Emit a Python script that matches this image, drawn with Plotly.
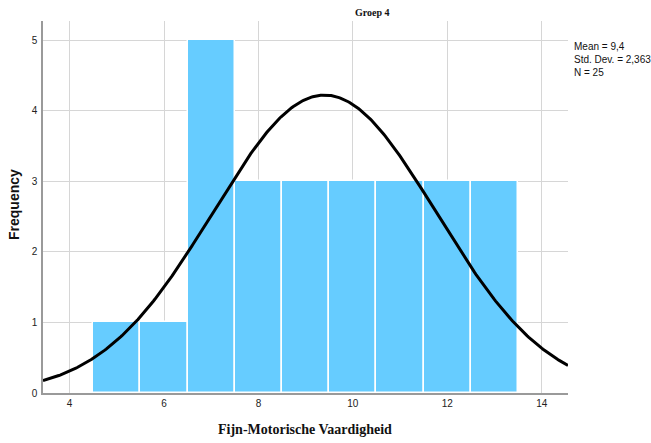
import numpy as np
import plotly.graph_objects as go

# Histogram data: bin centres (width 1) and frequencies
bin_centers = [5, 6, 7, 8, 9, 10, 11, 12, 13]
frequencies = [1, 1, 5, 3, 3, 3, 3, 3, 3]
bin_width = 1.0

# Summary statistics shown beside the plot
mean_val = 9.4
std_dev = 2.363
n_obs = 25

x_ticks = [4, 6, 8, 10, 12, 14]
y_ticks = [0, 1, 2, 3, 4, 5]

x_range = [3.437, 14.557]
y_range = [0, 5.27]

# Normal curve scaled to counts
xs = np.linspace(x_range[0], x_range[1], 400)
ys = n_obs * bin_width / (std_dev * np.sqrt(2 * np.pi)) * np.exp(-((xs - mean_val) ** 2) / (2 * std_dev ** 2))

fig = go.Figure()
fig.add_trace(go.Bar(
    x=bin_centers, y=frequencies, width=bin_width,
    marker=dict(color="#66CCFF", line=dict(color="white", width=1.5)),
    hoverinfo="skip",
))
fig.add_trace(go.Scatter(
    x=xs, y=ys, mode="lines",
    line=dict(color="black", width=3),
    hoverinfo="skip",
))

fig.update_layout(
    width=651, height=443,
    margin=dict(l=43, r=83, t=21, b=50),
    plot_bgcolor="white", paper_bgcolor="white",
    showlegend=False,
    bargap=0,
    font=dict(family="Liberation Sans, Arial, sans-serif", size=10, color="#222"),
    xaxis=dict(
        range=x_range, tickvals=x_ticks, showgrid=True, gridcolor="#d6d6d6", gridwidth=1,
        showline=True, linecolor="#9a9a9a", linewidth=1.5, zeroline=False,
        ticks="", tickfont=dict(size=10, color="#222"),
    ),
    yaxis=dict(
        range=y_range, tickvals=y_ticks, showgrid=True, gridcolor="#d6d6d6", gridwidth=1,
        showline=True, linecolor="#9a9a9a", linewidth=1.5, zeroline=False,
        ticks="", tickfont=dict(size=10, color="#222"), ticklabelstandoff=2,
    ),
    annotations=[
        dict(text="<b>Groep 4</b>", xref="paper", yref="paper", x=(372 - 43) / 525, y=1 + 9 / 372,
             showarrow=False, xanchor="center", yanchor="middle",
             font=dict(family="Liberation Serif, Times New Roman, serif", size=10, color="#111")),
        dict(text="Mean = 9,4<br>Std. Dev. = 2,363<br>N = 25", xref="paper", yref="paper",
             x=(572 - 43) / 525, y=1 - (39 - 21) / 372, showarrow=False, xanchor="left", yanchor="top",
             align="left", font=dict(size=10, color="#111")),
        dict(text="<b>Frequency</b>", xref="paper", yref="paper", x=-(43 - 14) / 525, y=1 - (205 - 21) / 372,
             showarrow=False, textangle=-90, xanchor="center", yanchor="middle",
             font=dict(family="Liberation Sans, Arial, sans-serif", size=14, color="#111")),
        dict(text="<b>Fijn-Motorische Vaardigheid</b>", xref="paper", yref="paper",
             x=(305 - 43) / 525, y=-(430 - 393) / 372, showarrow=False, xanchor="center", yanchor="middle",
             font=dict(family="Liberation Serif, Times New Roman, serif", size=14, color="#111")),
    ],
)

fig.write_html("out.html")
